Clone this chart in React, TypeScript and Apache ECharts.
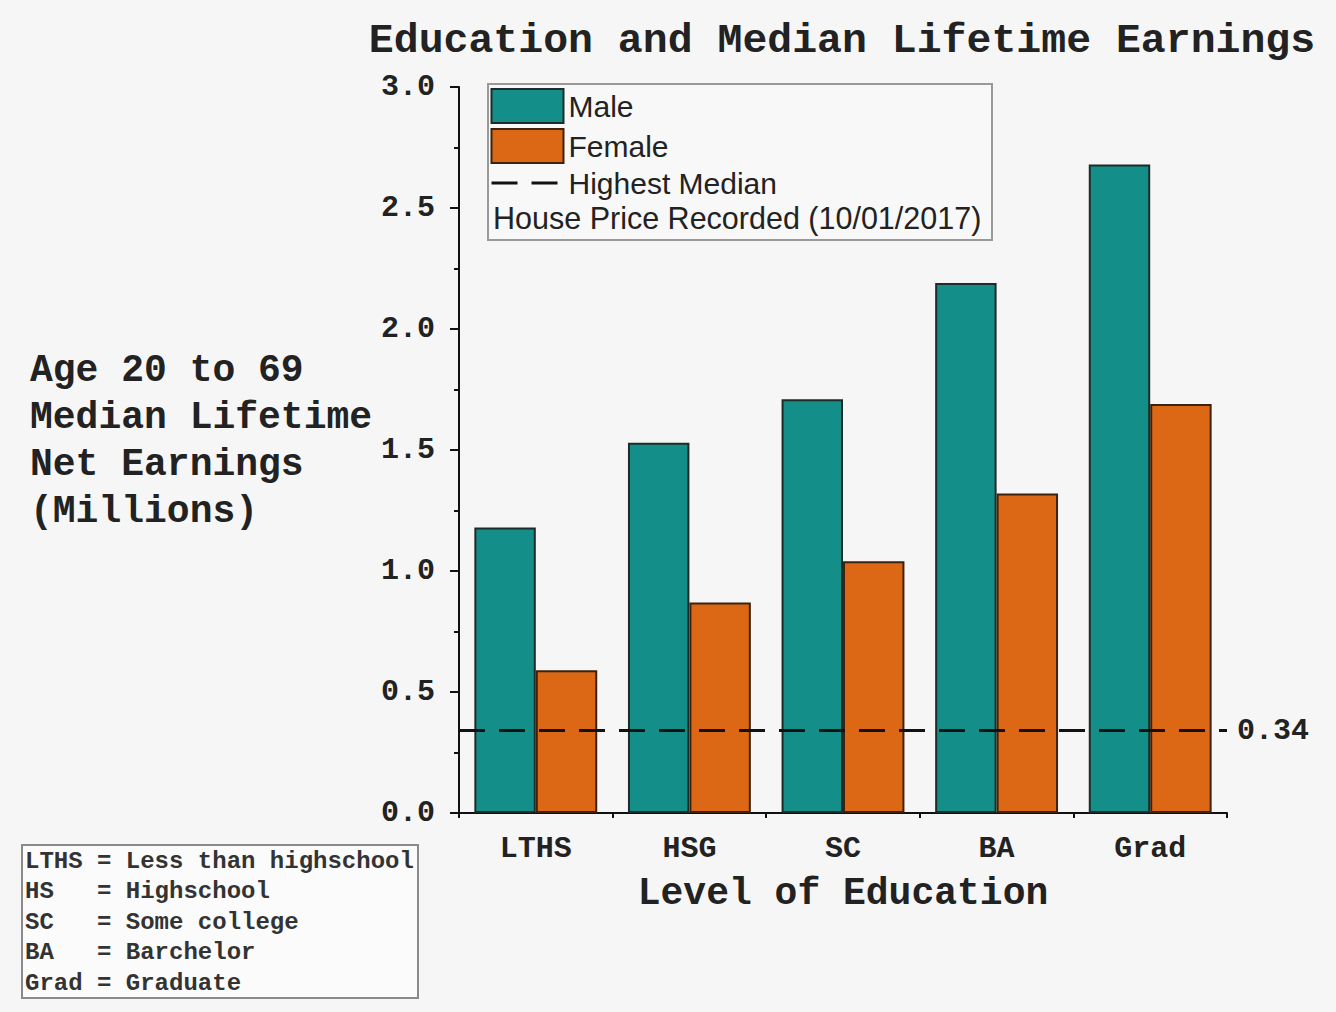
import React, { useEffect, useRef } from "react";
import * as echarts from "echarts";

const CATEGORIES = ["LTHS", "HSG", "SC", "BA", "Grad"];
const MALE = [1.18, 1.53, 1.71, 2.19, 2.68];
const FEMALE = [0.59, 0.87, 1.04, 1.32, 1.69];
const HIGHEST_MEDIAN = 0.34;
const Y_MIN = 0;
const Y_MAX = 3;
const Y_INTERVAL = 0.5;
const TITLE = "Education and Median Lifetime Earnings";
const Y_NAME_LINES = ["Age 20 to 69", "Median Lifetime", "Net Earnings", "(Millions)"];
const X_NAME = "Level of Education";
const LEGEND_NOTE = "House Price Recorded (10/01/2017)";
const GLOSSARY = [
  "LTHS = Less than highschool",
  "HS   = Highschool",
  "SC   = Some college",
  "BA   = Barchelor",
  "Grad = Graduate",
];

const MONO = "'Liberation Mono', 'DejaVu Sans Mono', monospace";
const SANS = "'Liberation Sans', Arial, sans-serif";
const TEAL = "#148e89";
const ORANGE = "#dc6714";
const DASH = [26, 14];

export default function App() {
  const ref = useRef<HTMLDivElement>(null);
  useEffect(() => {
    if (!ref.current) return;
    const chart = echarts.init(ref.current, null, { renderer: "svg" });
    const option: any = {
      animation: false,
      backgroundColor: "#f6f6f6",
      title: {
        text: TITLE,
        left: 837,
        top: 14,
        textAlign: "center",
        textStyle: { fontFamily: MONO, fontWeight: "bold", fontSize: 41.5, color: "#222" },
      },
      grid: { left: 459, right: 109, top: 87, bottom: 199, containLabel: false },
      legend: {
        orient: "vertical",
        left: 490,
        top: 88,
        padding: 0,
        itemWidth: 72,
        itemHeight: 34,
        itemGap: 4,
        selectedMode: false,
        textStyle: { fontFamily: SANS, fontSize: 30, color: "#222" },
        data: [
          { name: "Male", icon: "rect" },
          { name: "Female", icon: "rect" },
          {
            name: "Highest Median",
            itemStyle: { color: "rgba(0,0,0,0)", borderWidth: 0, opacity: 0 },
            lineStyle: { color: "#111", width: 3, type: DASH },
          },
        ],
      },
      xAxis: [
        {
          type: "category",
          data: CATEGORIES,
          name: X_NAME,
          nameLocation: "middle",
          nameGap: 61,
          nameTextStyle: { fontFamily: MONO, fontWeight: "bold", fontSize: 38, color: "#222" },
          axisLine: { lineStyle: { color: "#111", width: 2 } },
          axisTick: { alignWithLabel: true, length: 10, lineStyle: { color: "#111", width: 2 } },
          axisLabel: { fontFamily: MONO, fontWeight: "bold", fontSize: 30, color: "#222", margin: 21 },
        },
        {
          type: "category",
          data: CATEGORIES,
          position: "bottom",
          axisLine: { show: false },
          axisTick: { show: true, length: 5, lineStyle: { color: "#111", width: 2 } },
          axisLabel: { show: false },
        },
      ],
      yAxis: {
        type: "value",
        min: Y_MIN,
        max: Y_MAX,
        interval: Y_INTERVAL,
        axisLine: { show: true, lineStyle: { color: "#111", width: 2 } },
        axisTick: { show: true, length: 9, lineStyle: { color: "#111", width: 2 } },
        minorTick: { show: true, splitNumber: 2, length: 5, lineStyle: { color: "#111", width: 2 } },
        splitLine: { show: false },
        axisLabel: {
          fontFamily: MONO,
          fontWeight: "bold",
          fontSize: 30,
          color: "#222",
          margin: 24,
          formatter: (v: number) => v.toFixed(1),
        },
      },
      series: [
        {
          name: "Male",
          type: "bar",
          data: MALE,
          barWidth: "40%",
          barGap: "0%",
          itemStyle: { color: TEAL, borderColor: "#1e2b26", borderWidth: 2 },
        },
        {
          name: "Female",
          type: "bar",
          data: FEMALE,
          barWidth: "40%",
          barGap: "0%",
          itemStyle: { color: ORANGE, borderColor: "#3a2410", borderWidth: 2 },
        },
        {
          name: "Highest Median",
          type: "line",
          data: [],
          symbol: "none",
          z: 5,
          itemStyle: { color: "#111" },
          lineStyle: { color: "#111", width: 3, type: DASH },
          markLine: {
            silent: true,
            symbol: ["none", "none"],
            lineStyle: { color: "#111", width: 3, type: DASH },
            label: {
              position: "end",
              distance: 10,
              formatter: () => HIGHEST_MEDIAN.toFixed(2),
              fontFamily: MONO,
              fontWeight: "bold",
              fontSize: 30,
              color: "#222",
            },
            data: [{ yAxis: HIGHEST_MEDIAN }],
          },
        },
      ],
      graphic: [
        {
          type: "rect",
          z: 0,
          shape: { x: 488, y: 84, width: 504, height: 156 },
          style: { fill: "#f8f8f8", stroke: "#999", lineWidth: 2 },
        },
        {
          type: "text",
          z: 10,
          x: 493,
          y: 218,
          style: {
            text: LEGEND_NOTE,
            fontFamily: SANS,
            fontSize: 30.5,
            fill: "#222",
            verticalAlign: "middle",
            align: "left",
          },
        },
        {
          type: "text",
          x: 30,
          y: 347,
          style: {
            text: Y_NAME_LINES.join("\n"),
            fontFamily: MONO,
            fontWeight: "bold",
            fontSize: 38,
            lineHeight: 47,
            fill: "#222",
            verticalAlign: "top",
            align: "left",
          },
        },
        {
          type: "rect",
          shape: { x: 22, y: 845, width: 396, height: 153 },
          style: { fill: "#fbfbfb", stroke: "#8a8a8a", lineWidth: 2 },
        },
        {
          type: "text",
          x: 25,
          y: 846,
          style: {
            text: GLOSSARY.join("\n"),
            fontFamily: MONO,
            fontWeight: "bold",
            fontSize: 24,
            lineHeight: 30.5,
            fill: "#333",
            verticalAlign: "top",
            align: "left",
          },
        },
      ],
    };
    chart.setOption(option);
    return () => chart.dispose();
  }, []);
  return (
    <div
      ref={ref}
      style={{ position: "fixed", left: 0, top: 0, width: 1336, height: 1012 }}
    />
  );
}
